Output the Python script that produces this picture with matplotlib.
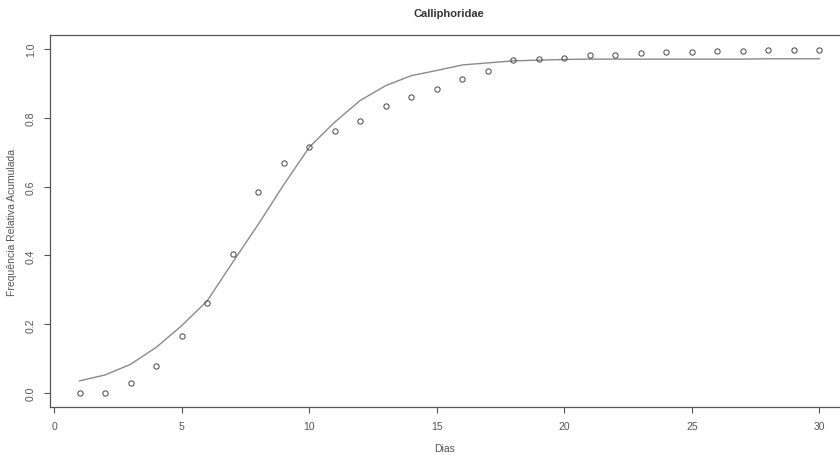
import matplotlib
matplotlib.use("Agg")
import matplotlib.pyplot as plt
import numpy as np

plt.rcParams['font.family'] = ['Liberation Sans', 'DejaVu Sans']

# observed cumulative relative frequency per day
dias = list(range(1, 31))
freq_obs = [0.000, 0.002, 0.031, 0.080, 0.167, 0.261, 0.405, 0.583, 0.667, 0.715,
            0.760, 0.791, 0.834, 0.861, 0.884, 0.912, 0.935, 0.968, 0.970, 0.973,
            0.983, 0.983, 0.988, 0.991, 0.991, 0.995, 0.995, 0.997, 0.997, 0.997]
# fitted curve
freq_fit = [0.036, 0.053, 0.084, 0.133, 0.196, 0.268, 0.380, 0.490, 0.605, 0.714,
            0.787, 0.850, 0.893, 0.922, 0.937, 0.953, 0.959, 0.965, 0.967, 0.969,
            0.970, 0.970, 0.970, 0.970, 0.970, 0.970, 0.970, 0.971, 0.971, 0.971]
xticks = [0, 5, 10, 15, 20, 25, 30]
yticks = [0.0, 0.2, 0.4, 0.6, 0.8, 1.0]

grey = '#555555'
fig = plt.figure(figsize=(8.4, 4.56), dpi=100)
ax = fig.add_axes([50 / 840, 48 / 456, 799 / 840, 372 / 456])

ax.plot(dias, freq_fit, color='#8a8a8a', lw=1.0)
ax.plot(dias, freq_obs, 'o', mfc='none', mec='#444444', ms=3.8, mew=0.7)

ax.set_xlim(-0.16, 31.16)
ax.set_ylim(-0.04, 1.04)
ax.set_xticks(xticks)
ax.set_yticks(yticks)
ax.set_yticklabels(['%.1f' % v for v in yticks], rotation=90, va='center')
ax.tick_params(colors=grey, labelcolor=grey, labelsize=7.5, length=4, width=0.8, pad=6)
for s in ax.spines.values():
    s.set_color(grey)
    s.set_linewidth(0.9)

ax.set_xlabel('Dias', color=grey, fontsize=7.5)
ax.set_ylabel('Frequência Relativa Acumulada', color=grey, fontsize=7.5)
ax.xaxis.set_label_coords((445 - 50) / 799, -0.097)
ax.yaxis.set_label_coords((17 - 50) / 799, 0.5)
fig.text(449 / 840, 1 - 14 / 456, 'Calliphoridae', ha='center', va='center',
         fontsize=8, fontweight='bold', color='#333333')

fig.savefig('out.png', dpi=100)
